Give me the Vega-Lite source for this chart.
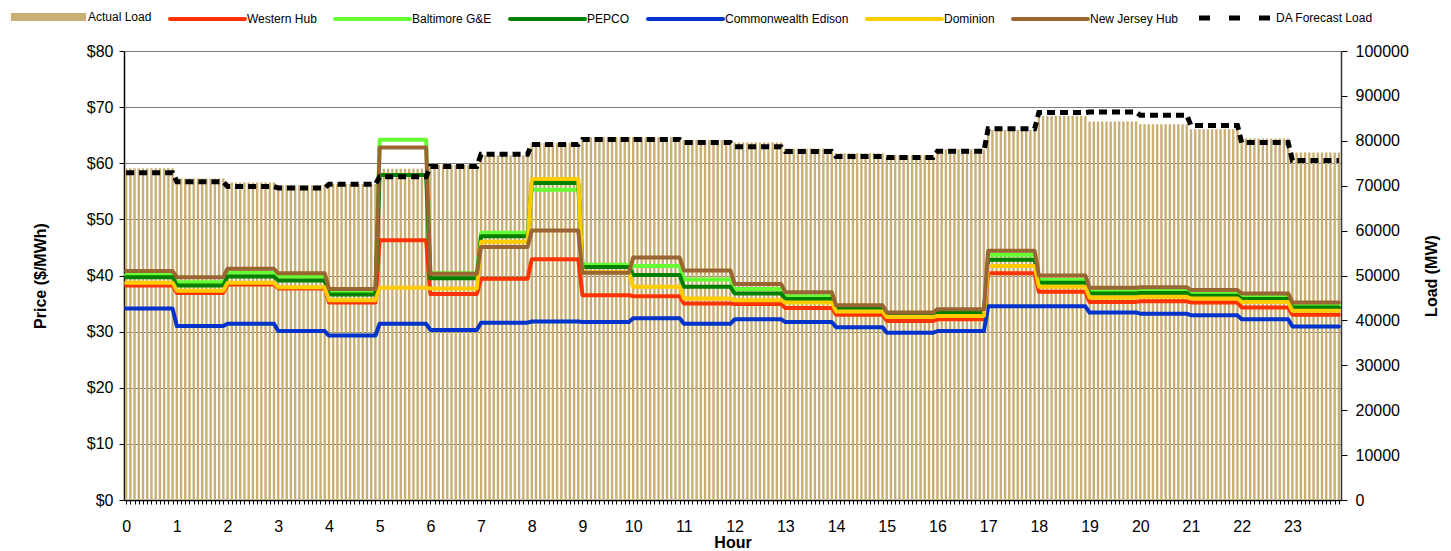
{
  "$schema": "https://vega.github.io/schema/vega-lite/v6.json",
  "width": 1217,
  "height": 449,
  "autosize": {"type": "none"},
  "padding": {"left": 124, "top": 51, "right": 110, "bottom": 51},
  "config": {
    "view": {"stroke": null},
    "font": "Liberation Sans",
    "axis": {"labelFont": "Liberation Sans", "titleFont": "Liberation Sans", "labelColor": "#000000", "titleColor": "#000000", "domainColor": "#000000", "tickColor": "#000000", "labelFontSize": 16, "titleFontSize": 16, "titleFontWeight": "bold"}
  },
  "datasets": {
    "bars": [
      {"i":0,"v":73900},{"i":1,"v":73900},{"i":2,"v":73900},{"i":3,"v":73900},{"i":4,"v":73900},{"i":5,"v":73900},{"i":6,"v":73900},{"i":7,"v":73900},{"i":8,"v":73900},{"i":9,"v":73900},{"i":10,"v":73900},{"i":11,"v":73900},
      {"i":12,"v":71600},{"i":13,"v":71600},{"i":14,"v":71600},{"i":15,"v":71600},{"i":16,"v":71600},{"i":17,"v":71600},{"i":18,"v":71600},{"i":19,"v":71600},{"i":20,"v":71600},{"i":21,"v":71600},{"i":22,"v":71600},{"i":23,"v":71600},
      {"i":24,"v":70700},{"i":25,"v":70700},{"i":26,"v":70700},{"i":27,"v":70700},{"i":28,"v":70700},{"i":29,"v":70700},{"i":30,"v":70700},{"i":31,"v":70700},{"i":32,"v":70700},{"i":33,"v":70700},{"i":34,"v":70700},{"i":35,"v":70700},
      {"i":36,"v":70100},{"i":37,"v":70100},{"i":38,"v":70100},{"i":39,"v":70100},{"i":40,"v":70100},{"i":41,"v":70100},{"i":42,"v":70100},{"i":43,"v":70100},{"i":44,"v":70100},{"i":45,"v":70100},{"i":46,"v":70100},{"i":47,"v":70100},
      {"i":48,"v":70400},{"i":49,"v":70400},{"i":50,"v":70400},{"i":51,"v":70400},{"i":52,"v":70400},{"i":53,"v":70400},{"i":54,"v":70400},{"i":55,"v":70400},{"i":56,"v":70400},{"i":57,"v":70400},{"i":58,"v":70400},{"i":59,"v":70400},
      {"i":60,"v":73800},{"i":61,"v":73800},{"i":62,"v":73800},{"i":63,"v":73800},{"i":64,"v":73800},{"i":65,"v":73800},{"i":66,"v":73800},{"i":67,"v":73800},{"i":68,"v":73800},{"i":69,"v":73800},{"i":70,"v":73800},{"i":71,"v":73800},
      {"i":72,"v":74600},{"i":73,"v":74600},{"i":74,"v":74600},{"i":75,"v":74600},{"i":76,"v":74600},{"i":77,"v":74600},{"i":78,"v":74600},{"i":79,"v":74600},{"i":80,"v":74600},{"i":81,"v":74600},{"i":82,"v":74600},{"i":83,"v":74600},
      {"i":84,"v":76700},{"i":85,"v":76700},{"i":86,"v":76700},{"i":87,"v":76700},{"i":88,"v":76700},{"i":89,"v":76700},{"i":90,"v":76700},{"i":91,"v":76700},{"i":92,"v":76700},{"i":93,"v":76700},{"i":94,"v":76700},{"i":95,"v":76700},
      {"i":96,"v":79500},{"i":97,"v":79500},{"i":98,"v":79500},{"i":99,"v":79500},{"i":100,"v":79500},{"i":101,"v":79500},{"i":102,"v":79500},{"i":103,"v":79500},{"i":104,"v":79500},{"i":105,"v":79500},{"i":106,"v":79500},{"i":107,"v":79500},
      {"i":108,"v":80800},{"i":109,"v":80800},{"i":110,"v":80800},{"i":111,"v":80800},{"i":112,"v":80800},{"i":113,"v":80800},{"i":114,"v":80800},{"i":115,"v":80800},{"i":116,"v":80800},{"i":117,"v":80800},{"i":118,"v":80800},{"i":119,"v":80800},
      {"i":120,"v":80800},{"i":121,"v":80800},{"i":122,"v":80800},{"i":123,"v":80800},{"i":124,"v":80800},{"i":125,"v":80800},{"i":126,"v":80800},{"i":127,"v":80800},{"i":128,"v":80800},{"i":129,"v":80800},{"i":130,"v":80800},{"i":131,"v":80800},
      {"i":132,"v":80200},{"i":133,"v":80200},{"i":134,"v":80200},{"i":135,"v":80200},{"i":136,"v":80200},{"i":137,"v":80200},{"i":138,"v":80200},{"i":139,"v":80200},{"i":140,"v":80200},{"i":141,"v":80200},{"i":142,"v":80200},{"i":143,"v":80200},
      {"i":144,"v":79600},{"i":145,"v":79600},{"i":146,"v":79600},{"i":147,"v":79600},{"i":148,"v":79600},{"i":149,"v":79600},{"i":150,"v":79600},{"i":151,"v":79600},{"i":152,"v":79600},{"i":153,"v":79600},{"i":154,"v":79600},{"i":155,"v":79600},
      {"i":156,"v":78300},{"i":157,"v":78300},{"i":158,"v":78300},{"i":159,"v":78300},{"i":160,"v":78300},{"i":161,"v":78300},{"i":162,"v":78300},{"i":163,"v":78300},{"i":164,"v":78300},{"i":165,"v":78300},{"i":166,"v":78300},{"i":167,"v":78300},
      {"i":168,"v":77200},{"i":169,"v":77200},{"i":170,"v":77200},{"i":171,"v":77200},{"i":172,"v":77200},{"i":173,"v":77200},{"i":174,"v":77200},{"i":175,"v":77200},{"i":176,"v":77200},{"i":177,"v":77200},{"i":178,"v":77200},{"i":179,"v":77200},
      {"i":180,"v":76800},{"i":181,"v":76800},{"i":182,"v":76800},{"i":183,"v":76800},{"i":184,"v":76800},{"i":185,"v":76800},{"i":186,"v":76800},{"i":187,"v":76800},{"i":188,"v":76800},{"i":189,"v":76800},{"i":190,"v":76800},{"i":191,"v":76800},
      {"i":192,"v":78100},{"i":193,"v":78100},{"i":194,"v":78100},{"i":195,"v":78100},{"i":196,"v":78100},{"i":197,"v":78100},{"i":198,"v":78100},{"i":199,"v":78100},{"i":200,"v":78100},{"i":201,"v":78100},{"i":202,"v":78100},{"i":203,"v":78100},
      {"i":204,"v":82400},{"i":205,"v":82400},{"i":206,"v":82400},{"i":207,"v":82400},{"i":208,"v":82400},{"i":209,"v":82400},{"i":210,"v":82400},{"i":211,"v":82400},{"i":212,"v":82400},{"i":213,"v":82400},{"i":214,"v":82400},{"i":215,"v":82400},
      {"i":216,"v":85500},{"i":217,"v":85500},{"i":218,"v":85500},{"i":219,"v":85500},{"i":220,"v":85500},{"i":221,"v":85500},{"i":222,"v":85500},{"i":223,"v":85500},{"i":224,"v":85500},{"i":225,"v":85500},{"i":226,"v":85500},{"i":227,"v":85500},
      {"i":228,"v":84300},{"i":229,"v":84300},{"i":230,"v":84300},{"i":231,"v":84300},{"i":232,"v":84300},{"i":233,"v":84300},{"i":234,"v":84300},{"i":235,"v":84300},{"i":236,"v":84300},{"i":237,"v":84300},{"i":238,"v":84300},{"i":239,"v":84300},
      {"i":240,"v":83700},{"i":241,"v":83700},{"i":242,"v":83700},{"i":243,"v":83700},{"i":244,"v":83700},{"i":245,"v":83700},{"i":246,"v":83700},{"i":247,"v":83700},{"i":248,"v":83700},{"i":249,"v":83700},{"i":250,"v":83700},{"i":251,"v":83700},
      {"i":252,"v":82600},{"i":253,"v":82600},{"i":254,"v":82600},{"i":255,"v":82600},{"i":256,"v":82600},{"i":257,"v":82600},{"i":258,"v":82600},{"i":259,"v":82600},{"i":260,"v":82600},{"i":261,"v":82600},{"i":262,"v":82600},{"i":263,"v":82600},
      {"i":264,"v":80500},{"i":265,"v":80500},{"i":266,"v":80500},{"i":267,"v":80500},{"i":268,"v":80500},{"i":269,"v":80500},{"i":270,"v":80500},{"i":271,"v":80500},{"i":272,"v":80500},{"i":273,"v":80500},{"i":274,"v":80500},{"i":275,"v":80500},
      {"i":276,"v":77400},{"i":277,"v":77400},{"i":278,"v":77400},{"i":279,"v":77400},{"i":280,"v":77400},{"i":281,"v":77400},{"i":282,"v":77400},{"i":283,"v":77400},{"i":284,"v":77400},{"i":285,"v":77400},{"i":286,"v":77400},{"i":287,"v":77400}
    ],
    "hourly": [
      {"i":0,"Western Hub":38.2,"Baltimore G&E":40.1,"PEPCO":39.7,"Commonwealth Edison":34.1,"Dominion":38.7,"New Jersey Hub":40.8,"da":72900},
      {"i":11,"Western Hub":38.2,"Baltimore G&E":40.1,"PEPCO":39.7,"Commonwealth Edison":34.1,"Dominion":38.7,"New Jersey Hub":40.8,"da":72900},
      {"i":12,"Western Hub":36.9,"Baltimore G&E":38.8,"PEPCO":38.2,"Commonwealth Edison":31.0,"Dominion":37.3,"New Jersey Hub":39.7,"da":70900},
      {"i":23,"Western Hub":36.9,"Baltimore G&E":38.8,"PEPCO":38.2,"Commonwealth Edison":31.0,"Dominion":37.3,"New Jersey Hub":39.7,"da":70900},
      {"i":24,"Western Hub":38.4,"Baltimore G&E":40.5,"PEPCO":39.8,"Commonwealth Edison":31.4,"Dominion":38.7,"New Jersey Hub":41.2,"da":69800},
      {"i":35,"Western Hub":38.4,"Baltimore G&E":40.5,"PEPCO":39.8,"Commonwealth Edison":31.4,"Dominion":38.7,"New Jersey Hub":41.2,"da":69800},
      {"i":36,"Western Hub":37.7,"Baltimore G&E":39.8,"PEPCO":39.1,"Commonwealth Edison":30.1,"Dominion":37.9,"New Jersey Hub":40.4,"da":69500},
      {"i":47,"Western Hub":37.7,"Baltimore G&E":39.8,"PEPCO":39.1,"Commonwealth Edison":30.1,"Dominion":37.9,"New Jersey Hub":40.4,"da":69500},
      {"i":48,"Western Hub":35.2,"Baltimore G&E":36.9,"PEPCO":36.6,"Commonwealth Edison":29.3,"Dominion":35.6,"New Jersey Hub":37.6,"da":70300},
      {"i":59,"Western Hub":35.2,"Baltimore G&E":36.9,"PEPCO":36.6,"Commonwealth Edison":29.3,"Dominion":35.6,"New Jersey Hub":37.6,"da":70300},
      {"i":60,"Western Hub":46.3,"Baltimore G&E":64.2,"PEPCO":57.9,"Commonwealth Edison":31.4,"Dominion":37.8,"New Jersey Hub":62.8,"da":72000},
      {"i":71,"Western Hub":46.3,"Baltimore G&E":64.2,"PEPCO":57.9,"Commonwealth Edison":31.4,"Dominion":37.8,"New Jersey Hub":62.8,"da":72000},
      {"i":72,"Western Hub":36.7,"Baltimore G&E":40.4,"PEPCO":39.5,"Commonwealth Edison":30.3,"Dominion":37.7,"New Jersey Hub":40.3,"da":74300},
      {"i":83,"Western Hub":36.7,"Baltimore G&E":40.4,"PEPCO":39.5,"Commonwealth Edison":30.3,"Dominion":37.7,"New Jersey Hub":40.3,"da":74300},
      {"i":84,"Western Hub":39.4,"Baltimore G&E":47.6,"PEPCO":47.0,"Commonwealth Edison":31.6,"Dominion":46.0,"New Jersey Hub":45.1,"da":77000},
      {"i":95,"Western Hub":39.4,"Baltimore G&E":47.6,"PEPCO":47.0,"Commonwealth Edison":31.6,"Dominion":46.0,"New Jersey Hub":45.1,"da":77000},
      {"i":96,"Western Hub":42.9,"Baltimore G&E":55.3,"PEPCO":56.5,"Commonwealth Edison":31.8,"Dominion":57.2,"New Jersey Hub":48.0,"da":79200},
      {"i":107,"Western Hub":42.9,"Baltimore G&E":55.3,"PEPCO":56.5,"Commonwealth Edison":31.8,"Dominion":57.2,"New Jersey Hub":48.0,"da":79200},
      {"i":108,"Western Hub":36.5,"Baltimore G&E":41.9,"PEPCO":41.5,"Commonwealth Edison":31.7,"Dominion":40.6,"New Jersey Hub":40.5,"da":80300},
      {"i":119,"Western Hub":36.5,"Baltimore G&E":41.9,"PEPCO":41.5,"Commonwealth Edison":31.7,"Dominion":40.6,"New Jersey Hub":40.5,"da":80300},
      {"i":120,"Western Hub":36.3,"Baltimore G&E":41.7,"PEPCO":40.1,"Commonwealth Edison":32.4,"Dominion":38.0,"New Jersey Hub":43.2,"da":80300},
      {"i":131,"Western Hub":36.3,"Baltimore G&E":41.7,"PEPCO":40.1,"Commonwealth Edison":32.4,"Dominion":38.0,"New Jersey Hub":43.2,"da":80300},
      {"i":132,"Western Hub":35.0,"Baltimore G&E":39.3,"PEPCO":38.0,"Commonwealth Edison":31.4,"Dominion":35.9,"New Jersey Hub":40.9,"da":79600},
      {"i":143,"Western Hub":35.0,"Baltimore G&E":39.3,"PEPCO":38.0,"Commonwealth Edison":31.4,"Dominion":35.9,"New Jersey Hub":40.9,"da":79600},
      {"i":144,"Western Hub":34.9,"Baltimore G&E":37.6,"PEPCO":36.8,"Commonwealth Edison":32.2,"Dominion":35.6,"New Jersey Hub":38.5,"da":78700},
      {"i":155,"Western Hub":34.9,"Baltimore G&E":37.6,"PEPCO":36.8,"Commonwealth Edison":32.2,"Dominion":35.6,"New Jersey Hub":38.5,"da":78700},
      {"i":156,"Western Hub":34.2,"Baltimore G&E":36.3,"PEPCO":35.8,"Commonwealth Edison":31.7,"Dominion":35.2,"New Jersey Hub":37.0,"da":77600},
      {"i":167,"Western Hub":34.2,"Baltimore G&E":36.3,"PEPCO":35.8,"Commonwealth Edison":31.7,"Dominion":35.2,"New Jersey Hub":37.0,"da":77600},
      {"i":168,"Western Hub":33.0,"Baltimore G&E":34.3,"PEPCO":34.1,"Commonwealth Edison":30.8,"Dominion":33.6,"New Jersey Hub":34.7,"da":76500},
      {"i":179,"Western Hub":33.0,"Baltimore G&E":34.3,"PEPCO":34.1,"Commonwealth Edison":30.8,"Dominion":33.6,"New Jersey Hub":34.7,"da":76500},
      {"i":180,"Western Hub":31.9,"Baltimore G&E":33.1,"PEPCO":32.9,"Commonwealth Edison":29.8,"Dominion":32.6,"New Jersey Hub":33.4,"da":76300},
      {"i":191,"Western Hub":31.9,"Baltimore G&E":33.1,"PEPCO":32.9,"Commonwealth Edison":29.8,"Dominion":32.6,"New Jersey Hub":33.4,"da":76300},
      {"i":192,"Western Hub":32.2,"Baltimore G&E":33.5,"PEPCO":33.3,"Commonwealth Edison":30.1,"Dominion":32.8,"New Jersey Hub":34.0,"da":77700},
      {"i":203,"Western Hub":32.2,"Baltimore G&E":33.5,"PEPCO":33.3,"Commonwealth Edison":30.1,"Dominion":32.8,"New Jersey Hub":34.0,"da":77700},
      {"i":204,"Western Hub":40.4,"Baltimore G&E":43.7,"PEPCO":42.8,"Commonwealth Edison":34.5,"Dominion":41.7,"New Jersey Hub":44.4,"da":82700},
      {"i":215,"Western Hub":40.4,"Baltimore G&E":43.7,"PEPCO":42.8,"Commonwealth Edison":34.5,"Dominion":41.7,"New Jersey Hub":44.4,"da":82700},
      {"i":216,"Western Hub":37.1,"Baltimore G&E":39.2,"PEPCO":38.7,"Commonwealth Edison":34.5,"Dominion":38.0,"New Jersey Hub":40.0,"da":86300},
      {"i":227,"Western Hub":37.1,"Baltimore G&E":39.2,"PEPCO":38.7,"Commonwealth Edison":34.5,"Dominion":38.0,"New Jersey Hub":40.0,"da":86300},
      {"i":228,"Western Hub":35.3,"Baltimore G&E":37.2,"PEPCO":36.8,"Commonwealth Edison":33.4,"Dominion":36.1,"New Jersey Hub":37.8,"da":86400},
      {"i":239,"Western Hub":35.3,"Baltimore G&E":37.2,"PEPCO":36.8,"Commonwealth Edison":33.4,"Dominion":36.1,"New Jersey Hub":37.8,"da":86400},
      {"i":240,"Western Hub":35.4,"Baltimore G&E":37.4,"PEPCO":36.9,"Commonwealth Edison":33.2,"Dominion":36.2,"New Jersey Hub":37.9,"da":85700},
      {"i":251,"Western Hub":35.4,"Baltimore G&E":37.4,"PEPCO":36.9,"Commonwealth Edison":33.2,"Dominion":36.2,"New Jersey Hub":37.9,"da":85700},
      {"i":252,"Western Hub":35.2,"Baltimore G&E":36.8,"PEPCO":36.4,"Commonwealth Edison":32.9,"Dominion":35.9,"New Jersey Hub":37.4,"da":83400},
      {"i":263,"Western Hub":35.2,"Baltimore G&E":36.8,"PEPCO":36.4,"Commonwealth Edison":32.9,"Dominion":35.9,"New Jersey Hub":37.4,"da":83400},
      {"i":264,"Western Hub":34.3,"Baltimore G&E":36.2,"PEPCO":35.8,"Commonwealth Edison":32.2,"Dominion":35.3,"New Jersey Hub":36.8,"da":79600},
      {"i":275,"Western Hub":34.3,"Baltimore G&E":36.2,"PEPCO":35.8,"Commonwealth Edison":32.2,"Dominion":35.3,"New Jersey Hub":36.8,"da":79600},
      {"i":276,"Western Hub":33.0,"Baltimore G&E":34.7,"PEPCO":34.3,"Commonwealth Edison":30.9,"Dominion":33.7,"New Jersey Hub":35.2,"da":75600},
      {"i":287,"Western Hub":33.0,"Baltimore G&E":34.7,"PEPCO":34.3,"Commonwealth Edison":30.9,"Dominion":33.7,"New Jersey Hub":35.2,"da":75600}
    ]
  },
  "encoding": {
    "x": {
      "field": "i",
      "type": "quantitative",
      "scale": {"domain": [-0.5, 287.5], "nice": false, "zero": false, "padding": 0},
      "axis": {
        "title": "Hour",
        "tickCount": 288,
        "labelExpr": "datum.value % 12 === 0 ? '' + (datum.value / 12) : ''",
        "labelOverlap": false,
        "labelBound": false,
        "labelFlush": false,
        "grid": false,
        "tickSize": 4,
        "labelPadding": 14,
        "titlePadding": 0,
        "domainWidth": 1.5
      }
    }
  },
  "layer": [
    {
      "data": {"name": "bars"},
      "mark": {"type": "bar", "orient": "vertical", "width": 2.4, "color": "#C9AF73"},
      "encoding": {
        "y": {
          "field": "v",
          "type": "quantitative",
          "scale": {"domain": [0, 100000], "nice": false},
          "axis": {"orient": "right", "title": "Load (MW)", "titleAngle": 270, "tickCount": 10, "format": "d", "grid": false, "tickSize": 6, "labelPadding": 8, "titlePadding": 31, "domainWidth": 1.5, "domainColor": "#333333"}
        }
      }
    },
    {
      "data": {"name": "hourly"},
      "transform": [
        {"fold": ["Western Hub", "Baltimore G&E", "PEPCO", "Commonwealth Edison", "Dominion", "New Jersey Hub"], "as": ["key", "p"]}
      ],
      "mark": {"type": "line", "strokeWidth": 4, "strokeJoin": "round", "strokeCap": "round"},
      "encoding": {
        "y": {
          "field": "p",
          "type": "quantitative",
          "scale": {"domain": [0, 80], "nice": false},
          "axis": {"orient": "left", "title": "Price ($/MWh)", "tickCount": 8, "labelExpr": "'$' + datum.value", "grid": true, "gridColor": "#808080", "gridWidth": 1, "tickSize": 5, "labelPadding": 6, "titlePadding": 38, "domainWidth": 1.5}
        },
        "color": {
          "field": "key",
          "type": "nominal",
          "scale": {"domain": ["Actual Load", "Western Hub", "Baltimore G&E", "PEPCO", "Commonwealth Edison", "Dominion", "New Jersey Hub", "DA Forecast Load"], "range": ["#C9AF73", "#FF3300", "#66FF33", "#008000", "#0033CC", "#FFCC00", "#996633", "#000000"]},
          "legend": {
            "title": null,
            "orient": "none",
            "legendX": -114,
            "legendY": -46,
            "direction": "horizontal",
            "symbolType": "stroke",
            "symbolSize": 5625,
            "symbolStrokeWidth": 4,
            "labelFont": "Liberation Sans",
            "labelFontSize": 12,
            "labelColor": "#000000",
            "labelOffset": 2,
            "columnPadding": 10,
            "encode": {
              "symbols": {
                "update": {
                  "x": {"value": 38.5},
                  "y": {"signal": "datum.value === 'Actual Load' ? 12 : 8"},
                  "strokeWidth": {"signal": "datum.value === 'Actual Load' ? 8 : (datum.value === 'DA Forecast Load' ? 5 : 4)"},
                  "strokeDash": {"signal": "datum.value === 'DA Forecast Load' ? [11, 19] : [1, 0]"},
                  "strokeCap": {"signal": "(datum.value === 'Actual Load' || datum.value === 'DA Forecast Load') ? 'butt' : 'round'"}
                }
              },
              "labels": {
                "update": {
                  "x": {"value": 78},
                  "y": {"signal": "datum.value === 'Actual Load' ? 12 : 8"},
                  "baseline": {"value": "middle"}
                }
              }
            }
          }
        }
      }
    },
    {
      "data": {"name": "hourly"},
      "mark": {"type": "line", "strokeWidth": 5, "strokeDash": [8, 5], "strokeCap": "butt", "color": "#000000"},
      "encoding": {
        "y": {
          "field": "da",
          "type": "quantitative",
          "scale": {"domain": [0, 100000], "nice": false},
          "axis": null
        }
      }
    }
  ],
  "resolve": {"scale": {"y": "independent"}}
}
